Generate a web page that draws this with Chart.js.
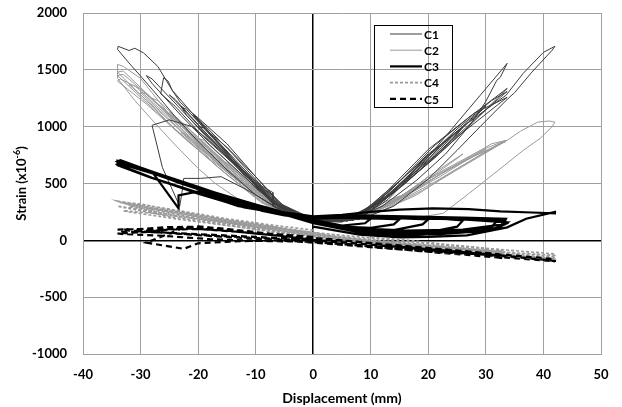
<!DOCTYPE html>
<html>
<head>
<meta charset="utf-8">
<script src="https://cdn.jsdelivr.net/npm/chart.js@4.4.1/dist/chart.umd.min.js"></script>
<style>
  html, body { margin: 0; padding: 0; background: #fff; }
  canvas { display: block; }
</style>
</head>
<body>
<canvas id="strainChart" width="622" height="407"></canvas>
<script>
// tick labels
const xTicks = [-40, -30, -20, -10, 0, 10, 20, 30, 40, 50];
const yTicks = [-1000, -500, 0, 500, 1000, 1500, 2000];

// [displacement mm, strain x10^-6]
const c1 = [
    [0,170],
    [5,160],[10,300],[8,250],[4,170],[0,175],[-4,230],[-8,380],[-10,470],[-9,440],[-6,320],[-2,200],[0,180],
    [5,165],[10,290],[15,520],[13,440],[9,260],[4,170],[0,180],[-5,260],[-10,460],[-15,740],[-14,700],[-10,520],[-5,300],[0,185],
    [6,170],[12,360],[16,540],[20,760],[18,640],[13,400],[8,220],[3,170],[0,180],[-6,300],[-12,600],[-17,850],[-20,1000],[-19,990],[-15,820],[-10,560],[-5,290],[0,185],
    [6,170],[12,380],[18,660],[23,880],[26,1000],[25,930],[21,740],[15,480],[9,250],[3,170],[0,180],[-7,330],[-14,700],[-21,1118],[-20.5,1100],[-15,850],[-10,560],[-6,330],[0,185],
    [7,175],[13,420],[20,760],[26,994],[24,880],[19,640],[12,340],[5,170],[0,180],[-6,320],[-13,660],[-18,930],[-21,1100],[-20,1070],[-14,760],[-9,480],[-7,420],[-7,300],[-4,240],[0,180],
    [7,180],[12,350],[17,570],[22,820],[27,1050],[30,1180],[29,1130],[24,900],[19,660],[13,400],[7,190],[0,180],[-6,300],[-12,580],[-18,880],[-22,1100],[-23,1180],[-22,1150],[-16,840],[-10,520],[-5,280],[0,185],
    [7,180],[13,440],[20,800],[27,1080],[33.7,1337],[32,1250],[27,1000],[21,720],[14,420],[7,190],[0,180],[-6,310],[-13,650],[-20,960],[-24,1180],[-26.5,1290],[-26,1430],[-25.2,1400],[-24.5,1320],[-23.1,1214],[-21,1118],[-14,720],[-7,326],[0,185],
    [8,185],[13,380],[19,690],[25,980],[31,1230],[33.7,1310],[33,1280],[28,1060],[22,780],[16,500],[10,260],[4,175],[0,178],[-7,320],[-13,640],[-19,960],[-24,1230],[-25,1280],[-24,1240],[-18,910],[-12,600],[-6,300],[0,180],
    [8,185],[14,470],[21,830],[28,1120],[33.7,1258],[32,1190],[26,950],[20,680],[13,380],[7,190],[0,180],[-6,300],[-14,680],[-21,1000],[-25,1060],[-28,1012],[-26.2,640],[-23.2,300],[-22.8,420],[-22.5,545],[-19.6,545],[-16,560],[-11,430],[-6,280],[0,185],
    [-6,290],[-12,560],[-18,840],[-23,1100],[-28,1380],[-29,1450],[-28,1420],[-22,1100],[-16,790],[-10,480],[-5,260],[0,180],
    [8,190],[13,360],[18,616],[24,975],[29,1275],[33.7,1557],[32.5,1434],[31.9,1408],[29.9,1214],[27,1000],[23,760],[18,530],[12,300],[7,190],[0,180],
    [-5,240],[-10,400],[-15,620],[-20,870],[-24,1090],[-28,1330],[-32,1560],[-34,1680],[-33.9,1707],[-32,1670],[-31,1690],[-29.5,1650],[-27,1530],[-24.5,1320],[-21,1118],[-14,720],[-7,326],[-3,210],[0,180],
    [8,190],[14,430],[20,740],[26,1000],[30,1150],[33.5,1276],[36.5,1470],[40,1654],[42,1707],[41.5,1672],[38,1480],[35,1300],[33.9,1250],[29,1000],[25,792],[20,540],[14,300],[9,200],[4,170],[0,175]
];

const c2 = [
    [0,190],
    [5,175],[10,240],[8,220],[4,180],[0,185],[-5,240],[-10,430],[-9,400],[-5,260],[0,190],
    [6,180],[11,270],[15,390],[13,350],[9,240],[4,180],[0,185],[-6,270],[-11,470],[-15,690],[-14,650],[-10,450],[-5,260],[0,190],
    [7,190],[13,310],[17,430],[20,560],[19,520],[15,380],[10,250],[5,180],[0,185],[-6,280],[-13,560],[-20,900],[-19,880],[-14,650],[-9,420],[-4,240],[0,190],
    [-6,260],[-12,480],[-18,720],[-23,950],[-22,930],[-16,660],[-10,420],[-5,250],[0,190],
    [8,195],[14,340],[20,560],[26,760],[25,720],[20,540],[14,330],[8,200],[0,190],[-7,300],[-14,590],[-20,860],[-25,1130],[-24.5,1110],[-19,860],[-13,580],[-7,330],[0,195],
    [7,190],[12,290],[18,450],[24,640],[30,800],[29,780],[22,560],[15,360],[9,220],[0,190],[-7,290],[-14,570],[-20,820],[-26,1100],[-32,1370],[-31,1360],[-25,1080],[-19,800],[-12,500],[-6,280],[0,190],
    [8,195],[14,350],[20,540],[27,720],[33.5,870],[32.5,850],[27,690],[21,510],[14,320],[8,200],[0,190],[-7,290],[-14,560],[-21,880],[-28,1250],[-27,1230],[-22,1000],[-16,720],[-10,460],[-5,260],[0,190],
    [9,200],[15,360],[22,580],[28,740],[33,860],[32,830],[26,650],[19,440],[12,260],[6,185],[0,190],[-8,320],[-15,600],[-22,920],[-30,1300],[-29,1290],[-24,1070],[-17,760],[-11,500],[-5,270],[0,190],
    [8,200],[15,370],[22,600],[29,790],[33.5,880],[32,840],[25,630],[18,400],[11,240],[5,180],[0,190],[-8,310],[-15,580],[-22,880],[-29,1200],[-34,1400],[-33.5,1420],[-30,1330],[-25,1100],[-19,820],[-13,560],[-7,320],[0,190],
    [-9,330],[-16,620],[-23,930],[-30,1260],[-34,1450],[-33,1460],[-29,1290],[-24,1060],[-18,790],[-12,520],[-6,300],[0,190],
    [-8,300],[-16,620],[-24,980],[-31,1330],[-34,1480],[-33,1490],[-27,1200],[-20,880],[-13,580],[-6,290],[0,190],
    [-12.7,352],[-17,500],[-20,633],[-24,840],[-28,1060],[-31,1230],[-34,1425],[-34,1548],[-33,1530],[-30,1425],[-25.3,1126],[-19.6,836],[-13.9,572],[-8,360],[-3,230],[0,190],
    [8,200],[14,360],[20,520],[26,700],[31,850],[33.7,880],[36,960],[39,1040],[41,1050],[42,1040],[41.5,1000],[39.5,900],[36.5,792],[32,610],[27,410],[22.6,238],[18,200],[12,185],[6,180],[0,185]
];

const c3 = [
    [0,200],
    [-5,230],[-10,290],[-9,260],[-5,220],[0,190],[5,200],[10,190],[9,150],[5,130],[0,150],
    [-5,240],[-10,310],[-15,380],[-14,350],[-9,270],[-4,220],[0,200],[5,205],[10,195],[15,185],[14,140],[10,110],[5,120],[0,160],
    [-6,260],[-13,350],[-20,470],[-19,440],[-13,330],[-7,250],[0,200],[5,210],[12,200],[20,185],[19,140],[14,90],[8,100],[2,150],[0,180],
    [-6,250],[-13,350],[-20,470],[-26,570],[-25,540],[-18,430],[-11,320],[-5,240],[0,200],[6,210],[14,200],[22,190],[26,175],[25,120],[20,70],[13,70],[6,110],[0,170],
    [-6,260],[-14,370],[-22,500],[-30,640],[-29,620],[-21,470],[-13,340],[-6,250],[0,200],[6,215],[15,205],[25,190],[33,170],[32.5,106],[25,70],[15,60],[7,90],[0,160],
    [-6,250],[-14,360],[-24,520],[-33,680],[-32,670],[-23,500],[-14,350],[-6,245],[0,205],[6,215],[14,205],[24,195],[32,175],[31,120],[24,80],[14,70],[6,100],[0,170],
    [-7,270],[-15,390],[-25.3,546],[-34,695],[-33.5,705],[-30,640],[-27.8,590],[-23.4,282],[-23.4,396],[-20,430],[-12.7,308],[-5,230],[0,200],[7,210],[16,195],[26,185],[33.7,158],[31,88],[22,55],[13,50],[6,90],[0,170],
    [-7,255],[-16,390],[-26,560],[-34,680],[-33,675],[-24,530],[-15,370],[-7,260],[0,210],[7,220],[16,210],[26,200],[33.5,190],[33,140],[26,95],[16,85],[7,110],[0,180],
    [-6,250],[-13,300],[-20,420],[-28.3,554],[-34,660],[-34,700],[-25.3,546],[-18,430],[-12.7,308],[-6,240],[0,200],[6,220],[15,210],[25,200],[33,185],[33.7,150],[32,110],[24,60],[15,40],[8,70],[0,150],
    [-6,240],[-12,290],[-20,410],[-28,550],[-34,670],[-33,690],[-26,560],[-18,420],[-11,300],[-5,230],[0,210],[5,225],[10,250],[15,270],[20.8,282],[27,275],[32.5,255],[38,245],[42,238],[42,250],[37,190],[33.7,114],[26.7,44],[20,30],[15.1,26],[8,50],[0,120]
];

const c4 = [
    [0,90],[-8,140],[-15,190],[-22,250],[-28,300],[-34,345],[-33,325],[-26,260],[-18,190],[-10,130],[-3,80],[0,60],[8,30],[15,10],[22,-30],[30,-70],[36,-95],[42,-120],[42,-132],[35,-110],[27,-80],[18,-40],[10,0],[3,40],[0,70],
    [-7,120],[-14,170],[-21,230],[-27,280],[-33,330],[-32,310],[-25,240],[-17,170],[-9,110],[-2,60],[6,20],[14,-20],[22,-55],[30,-90],[33,-100],[32,-105],[25,-75],[17,-40],[9,0],[2,40],[0,55],
    [-8,130],[-16,190],[-24,260],[-30,320],[-34,340],[-33,330],[-27,270],[-18,190],[-9,120],[0,70],[10,20],[20,-30],[30,-75],[33,-90],[32,-95],[22,-50],[12,-5],[4,35],[0,60],
    [-6,100],[-13,150],[-20,210],[-26,260],[-32,300],[-31,285],[-23,210],[-15,150],[-8,100],[0,45],[8,5],[16,-35],[25,-70],[33,-110],[42,-145],[42,-158],[34,-130],[26,-100],[18,-60],[10,-20],[3,20],[0,40],
    [-7,100],[-15,160],[-22,200],[-28,240],[-33,260],[-32,250],[-24,190],[-15,130],[-7,80],[0,40],
    [-8,95],[-16,150],[-24,220],[-30,270],[-34,300],[-33,290],[-25,210],[-16,140],[-8,80],[0,30],[8,-10],[16,-45],[24,-80],[30,-100],[29,-110],[20,-70],[12,-30],[4,10],[0,30]
];

const c5 = [
    [0,30],[-8,60],[-15,90],[-22,105],[-28,100],[-34,95],[-33,75],[-26,70],[-18,50],[-10,30],[-3,10],[0,0],[8,-30],[16,-60],[24,-95],[33,-135],[42,-180],[42,-165],[34,-130],[25,-95],[16,-55],[8,-15],[2,15],[0,20],
    [-6,50],[-13,85],[-20,120],[-26,115],[-31,95],[-30,80],[-24,60],[-17,35],[-10,15],[-4,0],[0,-10],[8,-40],[16,-70],[24,-100],[33,-130],[32,-120],[24,-85],[15,-45],[7,-10],[0,15],
    [-7,45],[-15,85],[-22,110],[-28,85],[-33,100],[-32,85],[-25,65],[-17,40],[-9,20],[0,0],
    [-7,55],[-14,95],[-20,123],[-23,100],[-29,-20],[-22.5,-75],[-20,-26],[-14,-10],[-7,0],[0,-15],[8,-45],[17,-85],[26,-120],[33,-150],[42,-185],[41,-175],[33,-140],[24,-105],[15,-60],[7,-25],[0,5],
    [-6,40],[-13,75],[-20,100],[-25,95],[-30,70],[-34,62],[-33,55],[-26,40],[-18,10],[-10,-5],[-3,-10],[0,-20],[10,-60],[20,-100],[30,-125],[33,-158],[32,-150],[22,-110],[12,-65],[4,-30],[0,-10]
];

const toXY = arr => arr.map(p => ({x: p[0], y: p[1]}));

const FONT = 'Lato';

// legend box and axis titles drawn by hand, like the spreadsheet original
const decorPlugin = {
    id: 'decor',
    afterDraw(chart) {
        const ctx = chart.ctx;
        const area = chart.chartArea;
        ctx.save();
        ctx.fillStyle = '#000';

        // x title
        ctx.font = 'bold 14px ' + FONT;
        ctx.textAlign = 'center';
        ctx.textBaseline = 'middle';
        ctx.fillText('Displacement (mm)', (area.left + area.right) / 2, 398);

        // y title with superscript
        ctx.save();
        ctx.translate(22, (area.top + area.bottom) / 2);
        ctx.rotate(-Math.PI / 2);
        const main = 'Strain (x10';
        const sup = '-6';
        const tail = ')';
        ctx.font = 'bold 13px ' + FONT;
        const w1 = ctx.measureText(main).width;
        const w3 = ctx.measureText(tail).width;
        ctx.font = 'bold 9px ' + FONT;
        const w2 = ctx.measureText(sup).width;
        let x = -(w1 + w2 + w3) / 2;
        ctx.textAlign = 'left';
        ctx.font = 'bold 13px ' + FONT;
        ctx.fillText(main, x, 0);
        x += w1;
        ctx.font = 'bold 9px ' + FONT;
        ctx.fillText(sup, x, -5);
        x += w2;
        ctx.font = 'bold 13px ' + FONT;
        ctx.fillText(tail, x, 0);
        ctx.restore();

        // legend
        ctx.strokeStyle = '#000';
        ctx.lineWidth = 1;
        ctx.setLineDash([]);
        ctx.strokeRect(374.5, 25.5, 78, 82);
        ctx.font = 'bold 12px ' + FONT;
        ctx.textAlign = 'left';
        ctx.textBaseline = 'middle';
        chart.data.datasets.forEach((ds, i) => {
            const y = 34 + i * 16.2;
            ctx.beginPath();
            ctx.strokeStyle = ds.borderColor;
            ctx.lineWidth = ds.borderWidth;
            ctx.setLineDash(ds.borderDash || []);
            ctx.moveTo(390, y);
            ctx.lineTo(422, y);
            ctx.stroke();
            ctx.setLineDash([]);
            ctx.fillStyle = '#000';
            ctx.fillText(ds.label, 424, y + 1);
        });
        ctx.restore();
    }
};

const gridColor = c => c.tick && c.tick.value === 0 ? '#000' : '#a0a0a0';
const gridWidth = c => c.tick && c.tick.value === 0 ? 1.5 : 1;

const ctx = document.getElementById('strainChart');

new Chart(ctx, {
    type: 'scatter',
    data: {
        datasets: [
            {
                label: 'C1',
                data: toXY(c1),
                borderColor: '#3c3c3c',
                borderWidth: 1,
                order: 3
            },
            {
                label: 'C2',
                data: toXY(c2),
                borderColor: '#9a9a9a',
                borderWidth: 1,
                order: 4
            },
            {
                label: 'C3',
                data: toXY(c3),
                borderColor: '#000000',
                borderWidth: 2.2,
                order: 2
            },
            {
                label: 'C4',
                data: toXY(c4),
                borderColor: '#9a9a9a',
                borderWidth: 1.6,
                borderDash: [3, 2],
                order: 1
            },
            {
                label: 'C5',
                data: toXY(c5),
                borderColor: '#000000',
                borderWidth: 2.2,
                borderDash: [6, 4],
                order: 0
            }
        ]
    },
    options: {
        responsive: false,
        animation: false,
        devicePixelRatio: 1,
        showLine: true,
        layout: {padding: {top: 13, right: 21, left: 0, bottom: 0}},
        elements: {
            point: {radius: 0, hoverRadius: 0},
            line: {tension: 0, fill: false}
        },
        plugins: {
            legend: {display: false},
            tooltip: {enabled: false}
        },
        scales: {
            x: {
                type: 'linear',
                min: -40,
                max: 50,
                afterBuildTicks: scale => { scale.ticks = xTicks.map(v => ({value: v})); },
                afterFit: scale => { scale.height = 53; },
                grid: {
                    color: gridColor,
                    lineWidth: gridWidth,
                    drawTicks: true,
                    tickLength: 13,
                    tickColor: 'rgba(0,0,0,0)'
                },
                border: {color: '#a0a0a0'},
                ticks: {
                    padding: 0,
                    color: '#000',
                    callback: v => String(v),
                    font: {family: FONT, size: 13, weight: 'bold'}
                }
            },
            y: {
                type: 'linear',
                min: -1000,
                max: 2000,
                afterBuildTicks: scale => { scale.ticks = yTicks.map(v => ({value: v})); },
                afterFit: scale => { scale.width = 83; },
                grid: {
                    color: gridColor,
                    lineWidth: gridWidth,
                    drawTicks: true,
                    tickLength: 16,
                    tickColor: 'rgba(0,0,0,0)'
                },
                border: {color: '#a0a0a0'},
                ticks: {
                    padding: 0,
                    color: '#000',
                    callback: v => String(v),
                    font: {family: FONT, size: 13, weight: 'bold'}
                }
            }
        }
    },
    plugins: [decorPlugin]
});
</script>
</body>
</html>
